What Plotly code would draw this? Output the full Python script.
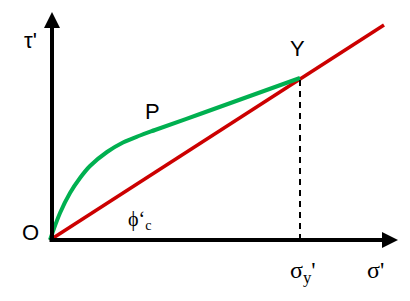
import plotly.graph_objects as go

# Data (units: sigma' horizontal, tau' vertical, origin at O)
curve_sigma = [0, 10, 20, 30, 40, 57, 73, 90, 105, 150, 200, 250]
curve_tau = [0, 27, 47, 62, 74, 88, 97.5, 104.5, 110, 126, 144, 162]
line_sigma = [0, 334]
line_tau = [0, 215]
yield_sigma = 250
yield_tau = 162
axis_x_end = 348
axis_y_end = 228

fig = go.Figure()
fig.add_trace(go.Scatter(x=line_sigma, y=line_tau, mode="lines",
                         line=dict(color="#CC0000", width=3.5), hoverinfo="skip"))
fig.add_trace(go.Scatter(x=curve_sigma, y=curve_tau, mode="lines",
                         line=dict(color="#00B050", width=4, shape="spline", smoothing=1.0),
                         hoverinfo="skip"))
fig.add_trace(go.Scatter(x=[yield_sigma, yield_sigma], y=[0, yield_tau], mode="lines",
                         line=dict(color="black", width=2, dash="6px,5px"), hoverinfo="skip"))

annotations = [
    dict(x=axis_x_end, y=0, ax=-2, ay=0, xref="x", yref="y", axref="x", ayref="y",
         showarrow=True, arrowhead=2, arrowsize=0.8, arrowwidth=4, arrowcolor="black", text=""),
    dict(x=2, y=axis_y_end, ax=2, ay=-2, xref="x", yref="y", axref="x", ayref="y",
         showarrow=True, arrowhead=2, arrowsize=0.8, arrowwidth=4, arrowcolor="black", text=""),
]
labels = [
    ("τ'", -20, 200, "Liberation Sans", 22),
    ("O", -20, 8, "Liberation Sans", 22),
    ("P", 102, 129, "Liberation Sans", 22),
    ("Y", 247, 192, "Liberation Sans", 22),
    ("ϕ‘<sub>c</sub>", 89, 20, "Liberation Serif", 20),
    ("σ<sub>y</sub>'", 253, -32, "Liberation Serif", 24),
    ("σ'", 325, -30, "Liberation Serif", 24),
]
for t, x, y, f, s in labels:
    annotations.append(dict(x=x, y=y, xref="x", yref="y", text=t, showarrow=False,
                            font=dict(family=f, size=s, color="black")))

fig.update_layout(
    width=410, height=301, margin=dict(l=0, r=0, t=0, b=0),
    paper_bgcolor="white", plot_bgcolor="white", showlegend=False,
    xaxis=dict(range=[-50, 360], visible=False, fixedrange=True),
    yaxis=dict(range=[-61, 240], visible=False, fixedrange=True),
    annotations=annotations,
)
fig.write_html("out.html")
